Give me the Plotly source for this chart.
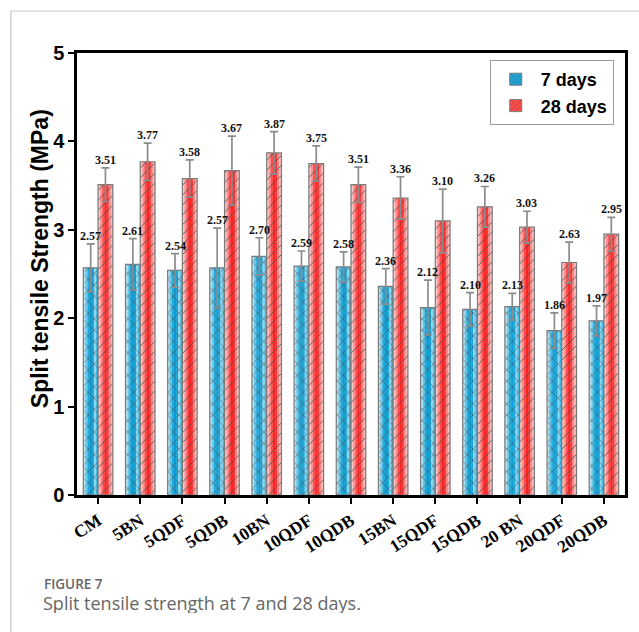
import plotly.graph_objects as go

# Mix designs and split tensile strength (MPa)
mixes = ["CM", "5BN", "5QDF", "5QDB", "10BN", "10QDF", "10QDB",
         "15BN", "15QDF", "15QDB", "20 BN", "20QDF", "20QDB"]
strength_7d = [2.57, 2.61, 2.54, 2.57, 2.70, 2.59, 2.58, 2.36, 2.12, 2.10, 2.13, 1.86, 1.97]
strength_28d = [3.51, 3.77, 3.58, 3.67, 3.87, 3.75, 3.51, 3.36, 3.10, 3.26, 3.03, 2.63, 2.95]
sd_7d = [0.27, 0.29, 0.19, 0.45, 0.21, 0.17, 0.17, 0.20, 0.31, 0.19, 0.15, 0.20, 0.17]
sd_28d = [0.19, 0.21, 0.21, 0.39, 0.24, 0.20, 0.20, 0.24, 0.36, 0.23, 0.18, 0.23, 0.19]

W, H = 639, 632
ML, MR, MT, MB = 77, 11, 53, 137
BAR_W = 0.35

# cylinder-style shading, left to right across each bar
blue_shades = ["#b4e5f4", "#6cc9ea", "#24abdc", "#0e9ed4", "#1aa5d8", "#8ed6ef", "#46bbe3"]
red_shades = ["#ffc4c4", "#ff9090", "#ff5050", "#ff2222", "#ff3636", "#ff8a8a", "#ffbcbc"]

series = [
    ("7 days", strength_7d, sd_7d, -BAR_W, blue_shades, "x", 8, "#1ca6d8"),
    ("28 days", strength_28d, sd_28d, 0.0, red_shades, "/", 7, "#ff4a4a"),
]

fig = go.Figure()

for name, vals, sd, off, shades, shape, psize, legend_col in series:
    n = len(shades)
    sw = BAR_W / n
    for k, col in enumerate(shades):
        fig.add_trace(go.Bar(
            x=mixes, y=vals, offset=off + k * sw, width=sw * 1.15,
            marker=dict(color=col, line=dict(width=0)),
            showlegend=False, hoverinfo="skip",
        ))
    # hatch + outline + error bars on top of the shading
    fig.add_trace(go.Bar(
        x=mixes, y=vals, offset=off, width=BAR_W, name=name,
        marker=dict(
            color="rgba(0,0,0,0)",
            line=dict(color="#7a7a7a", width=1.2),
            pattern=dict(shape=shape, fillmode="overlay", fgcolor="#505050",
                         fgopacity=0.9, bgcolor="rgba(0,0,0,0)", size=psize, solidity=0.14),
        ),
        error_y=dict(type="data", array=sd, visible=True, color="#8c8c8c",
                     thickness=1.7, width=4),
        showlegend=False,
    ))
    # legend entry
    fig.add_trace(go.Bar(
        x=mixes, y=[None] * len(mixes), name=name,
        marker=dict(
            color=legend_col,
            line=dict(color="#7a7a7a", width=1),
            pattern=dict(shape=shape, fgcolor="#4a4a4a", fgopacity=0.8, size=5,
                         solidity=0.15),
        ),
        showlegend=True,
    ))

# value labels above the error bars
annotations = []
for vals, sd, off in [(strength_7d, sd_7d, -BAR_W), (strength_28d, sd_28d, 0.0)]:
    for i, (v, e) in enumerate(zip(vals, sd)):
        annotations.append(dict(
            x=i + off + BAR_W / 2, y=v + e, xref="x", yref="y",
            text=f"<b>{v:.2f}</b>", showarrow=False, yanchor="bottom",
            yshift=-1, font=dict(family="Liberation Serif", size=12, color="#111"),
        ))

pw = W - ML - MR
ph = H - MT - MB


def px_x(px):
    return (px - ML) / pw


def px_y(py):
    return 1 - (py - MT) / ph


# y-axis title
annotations.append(dict(
    x=px_x(40), y=px_y(259), xref="paper", yref="paper", xanchor="center", yanchor="middle",
    text="Split tensile Strength (MPa)", textangle=-90, showarrow=False,
    font=dict(family="Liberation Sans", size=23, color="black", weight="bold"),
))

# caption
annotations.append(dict(
    x=px_x(42), y=px_y(583), xref="paper", yref="paper", xanchor="left", yanchor="middle",
    text="FIGURE 7", showarrow=False, height=15, valign="middle",
    font=dict(family="Open Sans", size=13.5, color="#666666", weight=600),
))
annotations.append(dict(
    x=px_x(41), y=px_y(602.5), xref="paper", yref="paper", xanchor="left", yanchor="middle",
    text="Split tensile strength at 7 and 28 days.", showarrow=False, height=20,
    valign="middle",
    font=dict(family="Open Sans", size=18, color="#666666"),
))

shapes = [
    dict(type="line", xref="paper", yref="paper", x0=px_x(10.5), x1=px_x(10.5),
         y0=px_y(11), y1=px_y(H + 5), line=dict(color="#c8c8c8", width=1.2)),
    dict(type="line", xref="paper", yref="paper", x0=px_x(10.5), x1=px_x(W + 5),
         y0=px_y(11), y1=px_y(11), line=dict(color="#c8c8c8", width=1.2)),
]

fig.update_layout(
    width=W, height=H,
    margin=dict(l=ML, r=MR, t=MT, b=MB),
    barmode="overlay",
    plot_bgcolor="white", paper_bgcolor="white",
    showlegend=True,
    legend=dict(
        x=px_x(492), y=px_y(60), xanchor="left", yanchor="top",
        bgcolor="white", bordercolor="#9a9a9a", borderwidth=1,
        font=dict(family="Liberation Sans", size=18, color="black", weight="bold"),
        itemwidth=40, tracegroupgap=0,
    ),
    annotations=annotations,
    shapes=shapes,
    xaxis=dict(
        type="category", range=[-0.5, len(mixes) - 0.5],
        showline=True, linecolor="black", linewidth=2.5, mirror=True,
        ticks="outside", ticklen=6, tickwidth=2, tickcolor="black",
        tickangle=-33, showgrid=False, zeroline=False,
        tickfont=dict(family="Liberation Serif", size=17.5, color="black", weight="bold"),
    ),
    yaxis=dict(
        range=[0, 5], dtick=1,
        showline=True, linecolor="black", linewidth=2.5, mirror=True,
        ticks="outside", ticklen=6, tickwidth=2, tickcolor="black",
        showgrid=False, zeroline=False,
        tickfont=dict(family="Liberation Sans", size=20, color="black", weight="bold"),
    ),
)

fig.write_html("out.html")
